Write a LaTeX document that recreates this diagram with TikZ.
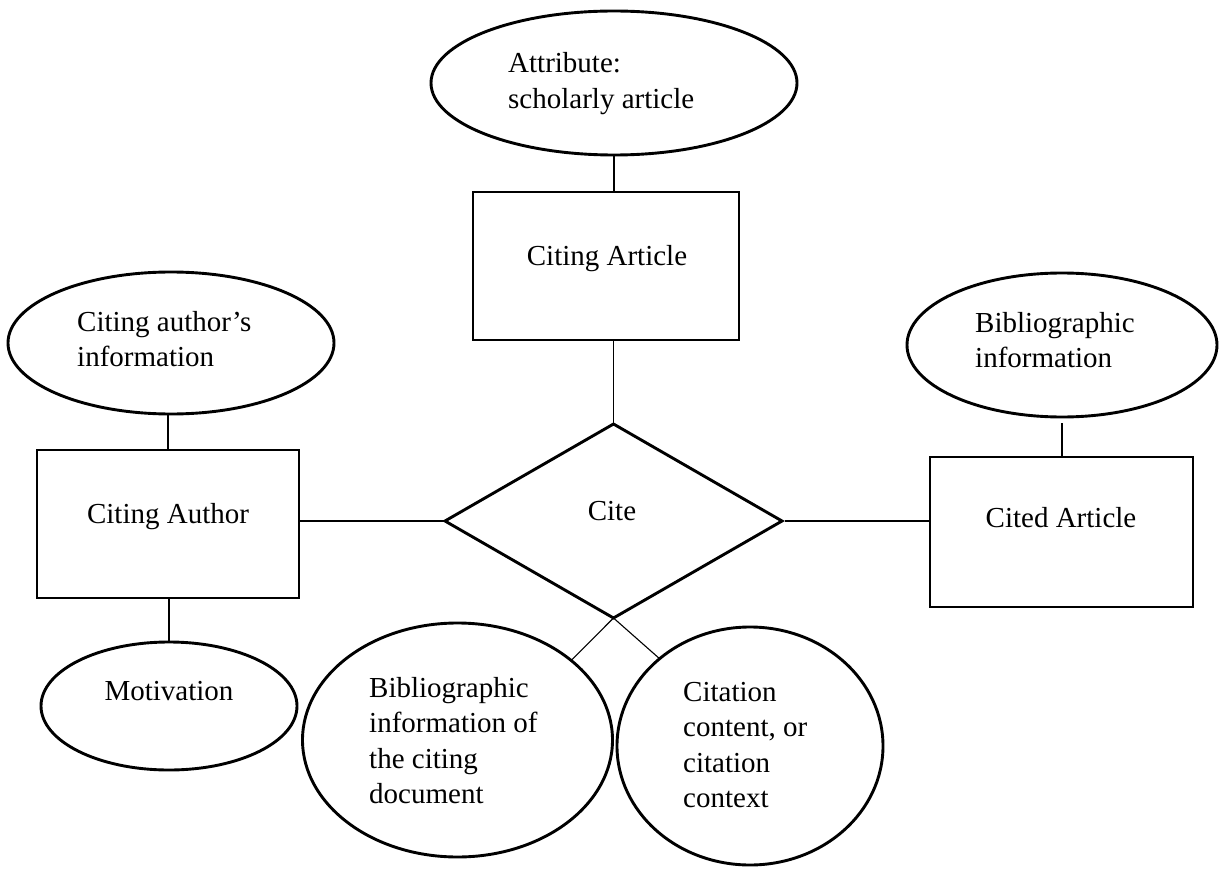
\documentclass[tikz,border=0pt]{standalone}
\usepackage{fontspec}
\setmainfont{Liberation Serif}
\usetikzlibrary{shapes.geometric}
\begin{document}
\begin{tikzpicture}[x=1pt,y=-1pt,
  shp/.style={draw=black, line width=2.9pt, inner sep=0pt, outer sep=0pt},
  ent/.style={shp, rectangle},
  attr/.style={shp, ellipse},
  rel/.style={shp, diamond},
  txt/.style={font=\fontsize{29}{35.5}\selectfont, inner sep=0pt, align=left},
  conn/.style={line width=1.1pt}]
\fill[white] (0,0) rectangle (1220,869);
\useasboundingbox (0,0) rectangle (1220,869);

% shapes
\node[attr, minimum width=366pt, minimum height=144pt] (AT) at (614,83) {};
\node[ent, minimum width=266pt, minimum height=148pt] (CA) at (606,266) {};
\node[rel, minimum width=337pt, minimum height=194pt] (D) at (613.5,521) {};
\node[attr, minimum width=326pt, minimum height=142pt] (CAI) at (171,343) {};
\node[ent, minimum width=262pt, minimum height=148pt] (A) at (168,524) {};
\node[attr, minimum width=256pt, minimum height=128pt] (M) at (169,706) {};
\node[attr, minimum width=310pt, minimum height=144pt] (BI) at (1062,345) {};
\node[ent, minimum width=263pt, minimum height=150pt] (CD) at (1061.5,532) {};
\node[attr, minimum width=310pt, minimum height=234pt] (BL) at (457.5,740) {};
\node[attr, minimum width=266pt, minimum height=238pt] (CC) at (750,746) {};

% texts (multi-line nodes: base anchor = baseline of last line)
\node[txt, anchor=base west] at (508,108.5) {Attribute:\\scholarly article};
\node[txt, anchor=base] at (607,265) {Citing Article};
\node[txt, anchor=base] at (612,520) {Cite};
\node[txt, anchor=base west] at (77,366.5) {Citing author’s\\information};
\node[txt, anchor=base] at (168,523) {Citing Author};
\node[txt, anchor=base] at (169,700) {Motivation};
\node[txt, anchor=base west] at (975,367.5) {Bibliographic\\information};
\node[txt, anchor=base] at (1061,527) {Cited Article};
\node[txt, anchor=base west] at (369,803.5) {Bibliographic\\information of\\the citing\\document};
\node[txt, anchor=base west] at (683,807.5) {Citation\\content, or\\citation\\context};

% connectors
\draw[conn] (AT.south) -- (AT.south |- CA.north);
\draw[conn] (D.north |- CA.south) -- (D.north);
\draw[conn] (A.north |- CAI.south) -- (A.north);
\draw[conn] (M.north |- A.south) -- (M.north);
\draw[conn] (A.east |- D.west) -- (D.west);
\draw[conn, shorten <=3pt] (D.east) -- (D.east -| CD.west);
\draw[conn] ([yshift=-6pt]BI.south) -- (BI.south |- CD.north);
\draw[conn] (D.south) -- (BL.35);
\draw[conn] (D.south) -- (CC.136);
\end{tikzpicture}
\end{document}
